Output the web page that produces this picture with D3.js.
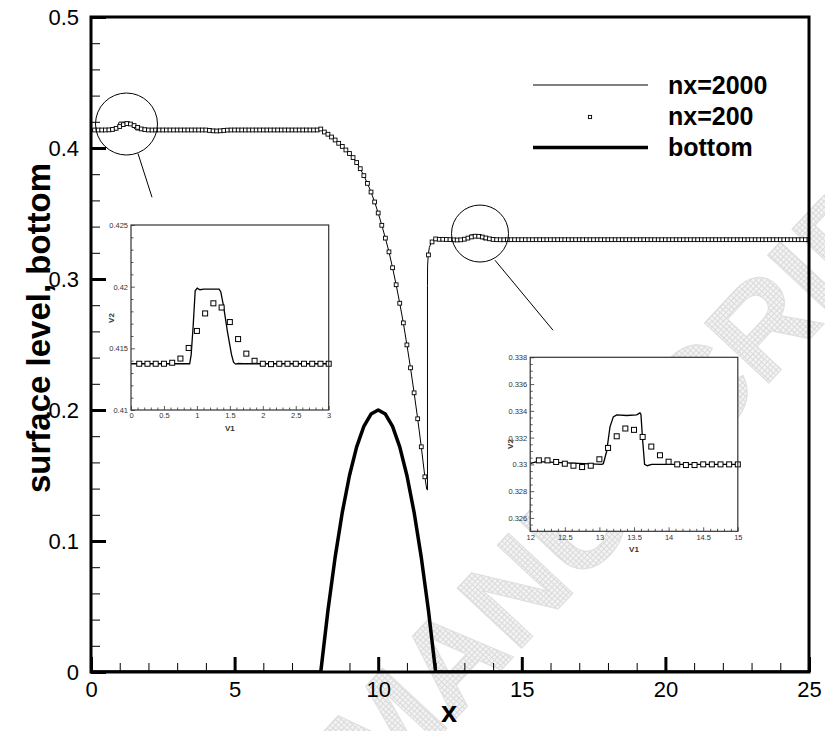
<!DOCTYPE html>
<html>
<head>
<meta charset="utf-8">
<script src="https://cdn.jsdelivr.net/npm/d3@7"></script>
<style>
  html, body { margin: 0; padding: 0; background: #fff; }
  svg { display: block; font-family: "Liberation Sans", Arial, sans-serif; }
</style>
</head>
<body>
<svg id="chart" width="825" height="731"></svg>
<script>
// ---- data -------------------------------------------------------------
// coarse solution (nx=200): surface level at x = 0.125, 0.25, ... 25
const coarseLevel = [
  0.41375, 0.41375, 0.41375, 0.41375, 0.41383, 0.41417, 0.41503, 0.41641,
  0.41783, 0.41865, 0.41831, 0.41713, 0.41575, 0.41457, 0.41399, 0.41375,
  0.41372, 0.41375, 0.41375, 0.41375, 0.41375, 0.41375, 0.41375, 0.41375,
  0.41375, 0.41375, 0.41375, 0.41375, 0.41375, 0.41375, 0.41375, 0.41375,
  0.41340, 0.41310, 0.41300, 0.41310, 0.41340, 0.41365, 0.41375, 0.41375,
  0.41375, 0.41375, 0.41375, 0.41375, 0.41375, 0.41375, 0.41375, 0.41375,
  0.41375, 0.41375, 0.41375, 0.41375, 0.41375, 0.41375, 0.41375, 0.41375,
  0.41375, 0.41375, 0.41375, 0.41375, 0.41375, 0.41375, 0.41375, 0.41450,
  0.4122, 0.4105, 0.4084, 0.4061, 0.4036, 0.4012, 0.3985, 0.3958,
  0.3927, 0.3889, 0.3842, 0.3789, 0.3730, 0.3664, 0.3588, 0.3504,
  0.3410, 0.3312, 0.3207, 0.3086, 0.2956, 0.2815, 0.2665, 0.2497,
  0.2322, 0.2131, 0.1933, 0.1719, 0.1490, 0.3184, 0.3283, 0.3306,
  0.3303, 0.3303, 0.33018, 0.33005, 0.3299, 0.3298, 0.3299, 0.33038,
  0.33123, 0.3321, 0.33268, 0.33258, 0.33205, 0.33133, 0.33068, 0.3302,
  0.3300, 0.32995, 0.32995, 0.3300, 0.3300, 0.3300, 0.3300, 0.3300,
  0.33, 0.33, 0.33, 0.33, 0.33, 0.33, 0.33, 0.33,
  0.33, 0.33, 0.33, 0.33, 0.33, 0.33, 0.33, 0.33,
  0.33, 0.33, 0.33, 0.33, 0.33, 0.33, 0.33, 0.33,
  0.33, 0.33, 0.33, 0.33, 0.33, 0.33, 0.33, 0.33,
  0.33, 0.33, 0.33, 0.33, 0.33, 0.33, 0.33, 0.33,
  0.33, 0.33, 0.33, 0.33, 0.33, 0.33, 0.33, 0.33,
  0.33, 0.33, 0.33, 0.33, 0.33, 0.33, 0.33, 0.33,
  0.33, 0.33, 0.33, 0.33, 0.33, 0.33, 0.33, 0.33,
  0.33, 0.33, 0.33, 0.33, 0.33, 0.33, 0.33, 0.33,
  0.33, 0.33, 0.33, 0.33, 0.33, 0.33, 0.33, 0.33
];
const coarseDx = 0.125;

// fine solution (nx=2000): surface level profile
const fineX = [
  0, 0.89, 0.913, 0.944, 0.974, 1.005, 1.046, 1.107, 1.337, 1.362, 1.403, 1.464,
  1.526, 1.556, 1.587, 1.628, 1.7, 8.0,
  8.125, 8.25, 8.375, 8.5, 8.625, 8.75, 8.875, 9.0,
  9.125, 9.25, 9.375, 9.5, 9.625, 9.75, 9.875, 10.0,
  10.125, 10.25, 10.375, 10.5, 10.625, 10.75, 10.875, 11.0,
  11.125, 11.25, 11.375, 11.5, 11.625, 11.69, 11.716, 11.716, 11.72, 11.74,
  11.78, 11.85, 11.95, 12.1, 13.033, 13.057, 13.105, 13.153, 13.201, 13.249,
  13.394, 13.538, 13.586, 13.6, 13.624, 13.653, 13.692, 13.754, 25
];
const fineLevel = [
  0.41375, 0.41375, 0.41447, 0.41687, 0.41967, 0.41988, 0.41975, 0.4198, 0.4198, 0.41959, 0.41847, 0.41633,
  0.41447, 0.41388, 0.41372, 0.41377, 0.41375, 0.41375,
  0.4122, 0.4105, 0.4084, 0.4061, 0.4036, 0.4012, 0.3985, 0.3958,
  0.3927, 0.3889, 0.3842, 0.3789, 0.3730, 0.3664, 0.3588, 0.3504,
  0.3410, 0.3312, 0.3207, 0.3086, 0.2956, 0.2815, 0.2665, 0.2497,
  0.2322, 0.2131, 0.1933, 0.1719, 0.1490, 0.1394, 0.1390, 0.2950, 0.3100, 0.3180,
  0.3240, 0.3280, 0.3300, 0.3302, 0.3300, 0.33005, 0.33098, 0.3328, 0.33355, 0.3337,
  0.33365, 0.3337, 0.33385, 0.33375, 0.33185, 0.3300, 0.3299, 0.3300, 0.3300
];

// bottom topography (bump between x = 8 and x = 12)
const bottomX = [0, 8, 8.25, 8.5, 8.75, 9, 9.25, 9.5, 9.75, 10, 10.25, 10.5, 10.75, 11, 11.25, 11.5, 11.75, 12, 25];
const bottomZ = [0, 0, 0.0469, 0.0875, 0.1219, 0.15, 0.1719, 0.1875, 0.1969, 0.2, 0.1969, 0.1875, 0.1719, 0.15, 0.1219, 0.0875, 0.0469, 0, 0];

// tick values
const xMajorTicks = [0, 5, 10, 15, 20, 25];
const xMinorTicks = [1, 2, 3, 4, 6, 7, 8, 9, 11, 12, 13, 14, 16, 17, 18, 19, 21, 22, 23, 24];
const yMajorTicks = [0, 0.1, 0.2, 0.3, 0.4, 0.5];
const yMinorTicks = [0.02, 0.04, 0.06, 0.08, 0.12, 0.14, 0.16, 0.18, 0.22, 0.24, 0.26, 0.28,
                     0.32, 0.34, 0.36, 0.38, 0.42, 0.44, 0.46, 0.48];

const inset1XTicks = [0, 0.5, 1, 1.5, 2, 2.5, 3];
const inset1XLabels = ["0", "0.5", "1", "1.5", "2", "2.5", "3"];
const inset1YTicks = [0.41, 0.415, 0.42, 0.425];
const inset1YLabels = ["0.41", "0.415", "0.42", "0.425"];
const inset2XTicks = [12, 12.5, 13, 13.5, 14, 14.5, 15];
const inset2XLabels = ["12", "12.5", "13", "13.5", "14", "14.5", "15"];
const inset2YTicks = [0.326, 0.328, 0.33, 0.332, 0.334, 0.336, 0.338];
const inset2YLabels = ["0.326", "0.328", "0.33", "0.332", "0.334", "0.336", "0.338"];

const inset1XMinor = [0.1, 0.2, 0.3, 0.4, 0.6, 0.7, 0.8, 0.9, 1.1, 1.2, 1.3, 1.4, 1.6, 1.7, 1.8, 1.9, 2.1, 2.2, 2.3, 2.4, 2.6, 2.7, 2.8, 2.9];
const inset1YMinor = [0.411, 0.412, 0.413, 0.414, 0.416, 0.417, 0.418, 0.419, 0.421, 0.422, 0.423, 0.424];
const inset2XMinor = [12.1, 12.2, 12.3, 12.4, 12.6, 12.7, 12.8, 12.9, 13.1, 13.2, 13.3, 13.4, 13.6, 13.7, 13.8, 13.9, 14.1, 14.2, 14.3, 14.4, 14.6, 14.7, 14.8, 14.9];
const inset2YMinor = [0.3255, 0.3265, 0.327, 0.3275, 0.3285, 0.329, 0.3295, 0.3305, 0.331, 0.3315, 0.3325, 0.333, 0.3335,
                      0.3345, 0.335, 0.3355, 0.3365, 0.337, 0.3375];

const legendLabels = ["nx=2000", "nx=200", "bottom"];

// ---- setup ------------------------------------------------------------
const svg = d3.select("#chart");
const W = 825, H = 731;
const plot = { left: 91, right: 809, top: 17, bottom: 672 };

const x = d3.scaleLinear().domain([0, 25]).range([plot.left, plot.right]);
const y = d3.scaleLinear().domain([0, 0.5]).range([plot.bottom, plot.top]);

const coarse = coarseLevel.map((v, i) => ({ x: (i + 1) * coarseDx, v }));
const fine = fineX.map((xv, i) => ({ x: xv, v: fineLevel[i] }));
const bottom = bottomX.map((xv, i) => ({ x: xv, v: bottomZ[i] }));

svg.append("rect").attr("width", W).attr("height", H).attr("fill", "#fff");

// ---- faint background stamp ----------------------------------------------
const defs = svg.append("defs");
const hatch = defs.append("pattern").attr("id", "hatch")
  .attr("width", 4).attr("height", 4).attr("patternUnits", "userSpaceOnUse");
hatch.append("rect").attr("width", 4).attr("height", 4).attr("fill", "#f3f3f3");
hatch.append("path").attr("d", "M0,0.5H4M0.5,0V4").attr("stroke", "#dadada").attr("stroke-width", 1);

svg.append("text")
  .attr("transform", "translate(380,800) rotate(-47)")
  .attr("font-size", 128).attr("font-weight", "bold")
  .attr("fill", "url(#hatch)").attr("stroke", "#dedede").attr("stroke-width", 1)
  .text("MANUSCRIPT");

// ---- main plot ---------------------------------------------------------
const clipMain = defs.append("clipPath").attr("id", "clipMain");
clipMain.append("rect").attr("x", plot.left).attr("y", plot.top)
  .attr("width", plot.right - plot.left).attr("height", plot.bottom - plot.top);

const line = d3.line().x(d => x(d.x)).y(d => y(d.v));

const main = svg.append("g").attr("clip-path", "url(#clipMain)");
main.append("path").datum(bottom).attr("d", line)
  .attr("fill", "none").attr("stroke", "#000").attr("stroke-width", 3.5)
  .attr("stroke-linejoin", "round");
main.append("path").datum(fine).attr("d", line)
  .attr("fill", "none").attr("stroke", "#000").attr("stroke-width", 1);
const sq = 3.8;
main.selectAll("rect.coarse").data(coarse).join("rect").attr("class", "coarse")
  .attr("x", d => x(d.x) - sq / 2).attr("y", d => y(d.v) - sq / 2)
  .attr("width", sq).attr("height", sq)
  .attr("fill", "#fff").attr("stroke", "#000").attr("stroke-width", 0.9);

// axes (inward ticks)
function styleAxis(g, width) {
  g.select(".domain").remove();
  g.selectAll(".tick line").attr("stroke", "#000").attr("stroke-width", width);
  g.selectAll(".tick text").attr("fill", "#000");
}
const tickFont = g => g.selectAll(".tick text").attr("font-size", 22)
  .attr("font-family", "Liberation Sans, Arial, sans-serif");

svg.append("g").attr("transform", `translate(0,${plot.bottom})`)
  .call(d3.axisBottom(x).tickValues(xMinorTicks).tickSize(-9).tickFormat(""))
  .call(g => styleAxis(g, 1));
svg.append("g").attr("transform", `translate(0,${plot.bottom})`)
  .call(d3.axisBottom(x).tickValues(xMajorTicks).tickSize(-15).tickPadding(9).tickFormat(d3.format("d")))
  .call(g => styleAxis(g, 3)).call(tickFont);
svg.append("g").attr("transform", `translate(${plot.left},0)`)
  .call(d3.axisLeft(y).tickValues(yMinorTicks).tickSize(-9).tickFormat(""))
  .call(g => styleAxis(g, 1));
svg.append("g").attr("transform", `translate(${plot.left},0)`)
  .call(d3.axisLeft(y).tickValues(yMajorTicks).tickSize(-15).tickPadding(12)
    .tickFormat(d => d === 0 ? "0" : d3.format(".1f")(d)))
  .call(g => styleAxis(g, 3)).call(tickFont);

svg.append("rect").attr("x", plot.left).attr("y", plot.top)
  .attr("width", plot.right - plot.left).attr("height", plot.bottom - plot.top)
  .attr("fill", "none").attr("stroke", "#000").attr("stroke-width", 3);

// axis titles
svg.append("text").attr("x", 449).attr("y", 722).attr("text-anchor", "middle")
  .attr("font-size", 29).attr("font-weight", "bold").text("x");
svg.append("text").attr("transform", "translate(50,328) rotate(-90)")
  .attr("text-anchor", "middle").attr("font-size", 33).attr("font-weight", "bold")
  .text("surface level, bottom");

// ---- legend --------------------------------------------------------------
const leg = svg.append("g");
leg.append("line").attr("x1", 533).attr("x2", 648).attr("y1", 85).attr("y2", 85)
  .attr("stroke", "#000").attr("stroke-width", 1);
leg.append("rect").attr("x", 590 - 1.6).attr("y", 117 - 1.6).attr("width", 3.2).attr("height", 3.2)
  .attr("fill", "#fff").attr("stroke", "#000").attr("stroke-width", 0.9);
leg.append("line").attr("x1", 533).attr("x2", 648).attr("y1", 147.5).attr("y2", 147.5)
  .attr("stroke", "#000").attr("stroke-width", 3.5);
leg.selectAll("text").data(legendLabels).join("text")
  .attr("x", 668).attr("y", (d, i) => 93.5 + i * 31)
  .attr("font-size", 25).attr("font-weight", "bold").text(d => d);

// ---- zoom circles and pointers ---------------------------------------------
const marks = svg.append("g").attr("fill", "none").attr("stroke", "#000").attr("stroke-width", 1);
marks.append("circle").attr("cx", x(1.236)).attr("cy", y(0.4183)).attr("r", 31);
marks.append("line").attr("x1", x(1.636)).attr("y1", y(0.3958)).attr("x2", x(2.124)).attr("y2", y(0.3624));
marks.append("circle").attr("cx", x(13.545)).attr("cy", y(0.3347)).attr("r", 28.5);
marks.append("line").attr("x1", x(14.067)).attr("y1", y(0.3143)).attr("x2", x(16.087)).attr("y2", y(0.2609));

// ---- insets ------------------------------------------------------------------
function drawInset(id, box, xDom, yDom, xt, xl, xMinor, yt, yl, yMinor, v2pos) {
  const xs = d3.scaleLinear().domain(xDom).range([box.l, box.r]);
  const ys = d3.scaleLinear().domain(yDom).range([box.b, box.t]);
  const g = svg.append("g");
  g.append("rect").attr("x", box.l).attr("y", box.t).attr("width", box.r - box.l).attr("height", box.b - box.t)
    .attr("fill", "#fff");
  defs.append("clipPath").attr("id", id).append("rect")
    .attr("x", box.l).attr("y", box.t).attr("width", box.r - box.l).attr("height", box.b - box.t);
  const ln = d3.line().x(d => xs(d.x)).y(d => ys(d.v));
  g.append("path").datum(fine).attr("d", ln).attr("clip-path", `url(#${id})`)
    .attr("fill", "none").attr("stroke", "#000").attr("stroke-width", 1.3);
  const pts = coarse.filter(d => d.x > xDom[0] && d.x <= xDom[1] + 1e-9);
  const s = 5;
  g.selectAll("rect.pt").data(pts).join("rect").attr("class", "pt")
    .attr("x", d => xs(d.x) - s / 2).attr("y", d => ys(d.v) - s / 2)
    .attr("width", s).attr("height", s)
    .attr("fill", "#fff").attr("stroke", "#000").attr("stroke-width", 1);

  const small = gg => {
    gg.select(".domain").remove();
    gg.selectAll(".tick line").attr("stroke", "#333").attr("stroke-width", 0.8);
    gg.selectAll(".tick text").attr("fill", "#333").attr("font-size", 7.5)
      .attr("font-family", "Liberation Sans, Arial, sans-serif");
  };
  g.append("g").attr("transform", `translate(0,${box.b})`)
    .call(d3.axisBottom(xs).tickValues(xMinor).tickSize(-2.5).tickFormat("")).call(small);
  g.append("g").attr("transform", `translate(0,${box.b})`)
    .call(d3.axisBottom(xs).tickValues(xt).tickSize(-4).tickPadding(3).tickFormat((d, i) => xl[i])).call(small);
  g.append("g").attr("transform", `translate(${box.l},0)`)
    .call(d3.axisLeft(ys).tickValues(yMinor).tickSize(-2.5).tickFormat("")).call(small);
  g.append("g").attr("transform", `translate(${box.l},0)`)
    .call(d3.axisLeft(ys).tickValues(yt).tickSize(-4).tickPadding(3).tickFormat((d, i) => yl[i])).call(small);

  g.append("rect").attr("x", box.l).attr("y", box.t).attr("width", box.r - box.l).attr("height", box.b - box.t)
    .attr("fill", "none").attr("stroke", "#333").attr("stroke-width", 1.2);
  g.append("text").attr("x", (box.l + box.r) / 2).attr("y", box.b + 21).attr("text-anchor", "middle")
    .attr("font-size", 8).attr("font-weight", "bold").attr("fill", "#333").text("V1");
  g.append("text").attr("transform", `translate(${v2pos[0]},${v2pos[1]}) rotate(-90)`)
    .attr("text-anchor", "middle").attr("font-size", 8).attr("font-weight", "bold").attr("fill", "#333").text("V2");
}

drawInset("clipInset1", { l: 131, r: 328.7, t: 225, b: 410 }, [0, 3], [0.41, 0.425],
  inset1XTicks, inset1XLabels, inset1XMinor, inset1YTicks, inset1YLabels, inset1YMinor, [114, 318]);
drawInset("clipInset2", { l: 530.2, r: 737.8, t: 357.3, b: 531.3 }, [12, 15], [0.325, 0.338],
  inset2XTicks, inset2XLabels, inset2XMinor, inset2YTicks, inset2YLabels, inset2YMinor, [513, 444]);
</script>
</body>
</html>
